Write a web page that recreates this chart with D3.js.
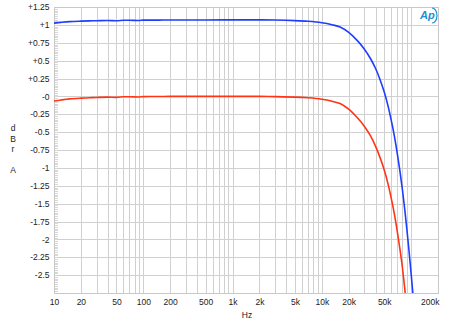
<!DOCTYPE html>
<html>
<head>
<meta charset="utf-8">
<script src="https://cdn.jsdelivr.net/npm/d3@7"></script>
<style>
  body { margin: 0; background: #fff; }
  svg { display: block; font-family: "Liberation Sans", Arial, sans-serif; }
  .tick text { fill: #222; font-size: 8.5px; }
</style>
</head>
<body>
<svg id="chart" width="450" height="329"></svg>
<script>
// frequency response, dBr A
let freqs = [10,12,15,20,25,30,40,50,60,70,90,100,150,200,500,1000,2000,3000,5000,7000,
             10000,13000,16000,20000,25000,30000,35000,40000,45000,50000,
             55000,60000,65000,70000,75000,80000,85000,90000,95000,100000,105000,110000]
let blueDb = [1.025,1.035,1.045,1.052,1.056,1.058,1.062,1.058,1.064,1.065,
              1.062,1.066,1.067,1.068,1.069,1.07,1.07,1.068,1.06,1.05,
              1.03,1.002,0.97,0.895,0.78,0.66,0.53,0.39,0.23,0.06,
              -0.13,-0.34,-0.56,-0.8,-1.05,-1.31,-1.59,-1.88,-2.18,-2.48,-2.78,-3.08]
let redDb = [-0.065,-0.05,-0.035,-0.025,-0.02,-0.015,-0.01,-0.014,-0.006,-0.005,
             -0.008,-0.003,-0.002,0,0,0,0,-0.003,-0.01,-0.02,
             -0.04,-0.068,-0.1,-0.18,-0.3,-0.42,-0.55,-0.7,-0.86,-1.03,
             -1.22,-1.43,-1.65,-1.89,-2.14,-2.4,-2.7,-3.0,-3.3,-3.6,-3.9,-4.2]

let xTickVals = [10,20,50,100,200,500,1000,2000,5000,10000,20000,50000,200000]
let xTickLabels = ["10","20","50","100","200","500","1k","2k","5k","10k","20k","50k","200k"]
let yTickVals = [1.25,1,0.75,0.5,0.25,0,-0.25,-0.5,-0.75,-1,-1.25,-1.5,-1.75,-2,-2.25,-2.5]
let yTickLabels = ["+1.25","+1","+0.75","+0.5","+0.25","-0","-0.25","-0.5","-0.75","-1",
                   "-1.25","-1.5","-1.75","-2","-2.25","-2.5"]

let pLeft = 54, pRight = 438, pTop = 7, pBottom = 293

let svg = d3.select("#chart")
let x = d3.scaleLog().domain([10, 200000]).range([pLeft, pRight])
let y = d3.scaleLinear().domain([-2.75, 1.25]).range([pBottom, pTop])

// vertical grid at every 1-9 x decade
let vGrid = []
for (let dec = 10; dec < 200000; dec *= 10) {
    for (let m = 1; m < 10; m++) {
        if (dec * m <= 200000) vGrid.push(dec * m)
    }
}
svg.append("g").selectAll("line")
    .data(vGrid)
    .enter().append("line")
    .attr("x1", d => Math.round(x(d)) + 0.5)
    .attr("x2", d => Math.round(x(d)) + 0.5)
    .attr("y1", pTop).attr("y2", pBottom)
    .style("stroke", "#d0d0d0").style("stroke-width", 1)

// horizontal grid every 0.25
let hGrid = d3.range(-2.75, 1.26, 0.25)
svg.append("g").selectAll("line")
    .data(hGrid)
    .enter().append("line")
    .attr("x1", pLeft).attr("x2", pRight)
    .attr("y1", d => Math.round(y(d)) + 0.5)
    .attr("y2", d => Math.round(y(d)) + 0.5)
    .style("stroke", "#d0d0d0").style("stroke-width", 1)

// dense minor ticks on left edge
let minor = d3.range(-2.75, 1.251, 0.025)
svg.append("g").selectAll("line")
    .data(minor)
    .enter().append("line")
    .attr("x1", pLeft).attr("x2", pLeft + 4)
    .attr("y1", d => Math.round(y(d)) + 0.5)
    .attr("y2", d => Math.round(y(d)) + 0.5)
    .style("stroke", "#d8d8d8").style("stroke-width", 1)

svg.append("rect")
    .attr("x", pLeft + 0.5).attr("y", pTop + 0.5)
    .attr("width", pRight - pLeft).attr("height", pBottom - pTop)
    .style("fill", "none").style("stroke", "#c8c8c8")

// axes (labels only)
let yAxis = d3.axisLeft(y).tickValues(yTickVals)
    .tickFormat((d, i) => yTickLabels[i]).tickSize(0).tickPadding(4)
svg.append("g").attr("transform", `translate(${pLeft - 0.5},0)`).call(yAxis)
    .call(g => g.select(".domain").remove())

let xAxis = d3.axisBottom(x).tickValues(xTickVals)
    .tickFormat((d, i) => xTickLabels[i]).tickSize(0).tickPadding(6)
let xAxisGroup = svg.append("g").attr("transform", `translate(0,${pBottom})`).call(xAxis)
xAxisGroup.select(".domain").remove()
xAxisGroup.selectAll(".tick text")
    .filter(d => d === 200000)
    .attr("text-anchor", "end").attr("dx", 1)

svg.append("text")
    .attr("x", 247).attr("y", 318)
    .attr("text-anchor", "middle")
    .style("font-size", "8.5px").style("fill", "#222")
    .text("Hz")

let ylab = ["d", "B", "r", "", "A"]
svg.append("g").selectAll("text")
    .data(ylab)
    .enter().append("text")
    .attr("x", 13)
    .attr("y", (d, i) => 131 + i * 10.5)
    .attr("text-anchor", "middle")
    .style("font-size", "8.5px").style("fill", "#222")
    .text(d => d)

// clip + curves
svg.append("clipPath").attr("id", "clip")
    .append("rect").attr("x", pLeft).attr("y", pTop)
    .attr("width", pRight - pLeft).attr("height", pBottom - pTop)

let line = d3.line().curve(d3.curveCatmullRom.alpha(0.5))
    .x(d => x(d[0])).y(d => y(d[1]))

svg.append("path")
    .datum(freqs.map((f, i) => [f, redDb[i]]))
    .attr("clip-path", "url(#clip)")
    .attr("d", line)
    .style("fill", "none").style("stroke", "#ff3414").style("stroke-width", 1.6)

svg.append("path")
    .datum(freqs.map((f, i) => [f, blueDb[i]]))
    .attr("clip-path", "url(#clip)")
    .attr("d", line)
    .style("fill", "none").style("stroke", "#1f3cff").style("stroke-width", 1.6)

// Ap logo
let logo = svg.append("g")
logo.append("text")
    .attr("x", 420).attr("y", 19)
    .style("font-size", "11px").style("font-style", "italic").style("font-weight", "bold")
    .style("fill", "#1b8fd0").style("font-family", "Liberation Sans, Arial, sans-serif")
    .text("Ap")
logo.append("path")
    .attr("d", "M432,8 A5,7.5 0 0 1 432,23")
    .style("fill", "none").style("stroke", "#1b8fd0").style("stroke-width", 1.2)
</script>
</body>
</html>
